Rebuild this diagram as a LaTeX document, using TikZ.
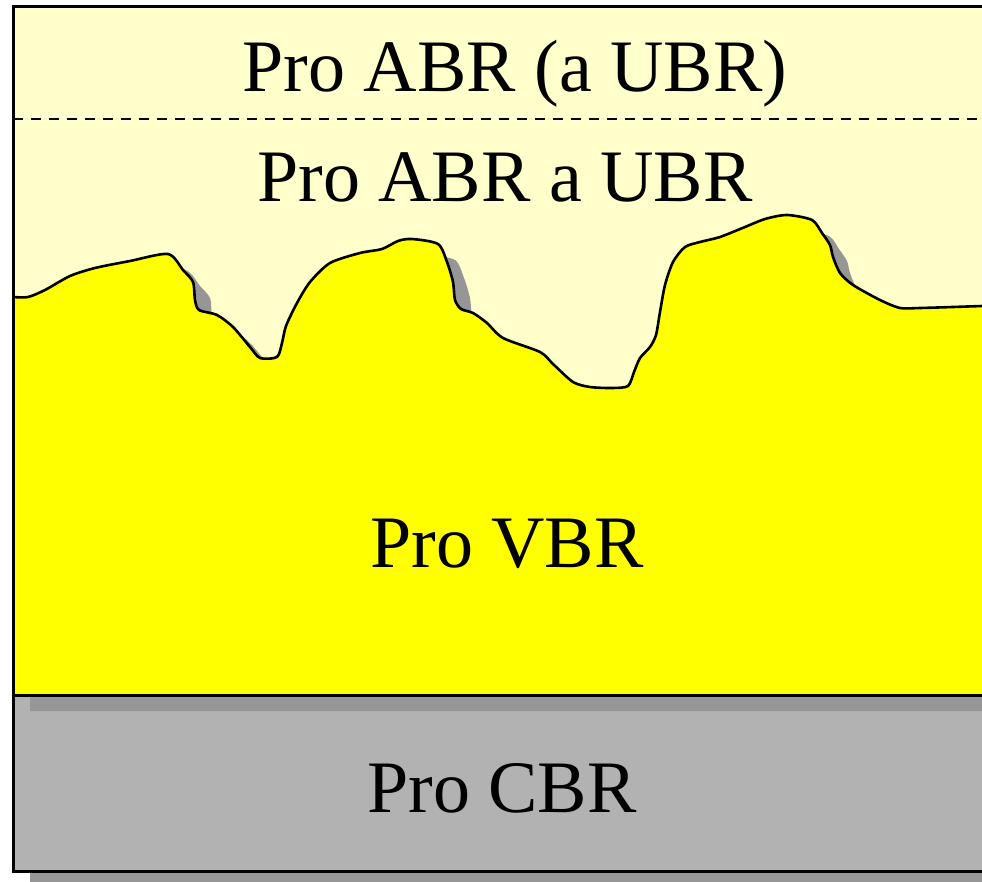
\documentclass[tikz,border=0pt]{standalone}
\usepackage{fontspec}
\setmainfont{Liberation Serif}
\usepackage{tikz}
\usetikzlibrary{positioning}

\definecolor{abrback}{RGB}{255,255,204}
\definecolor{vbrback}{RGB}{255,255,0}
\definecolor{cbrback}{RGB}{178,178,178}
\definecolor{shadowgray}{RGB}{150,150,150}

% upper edge of the VBR area, left to right
\def\vbredge{(13,297) -- plot[smooth, tension=0.45] coordinates {
  (13,297) (28,297) (45,290) (70,276) (95,268) (130,261) (168,254)
  (183,270) (193,282) (195,300) (199,310) (217,315) (233,327) (250,347)
  (260,358) (277,357) (282,343) (286,326) (297,303) (310,282) (330,263)
  (360,253) (382,249) (398,241) (412,239) (438,244) (447,262) (453,282)
  (455,300) (461,309) (473,313) (487,323) (503,338) (540,352) (553,364)
  (573,382) (590,387) (612,388) (628,386) (634,372) (640,358) (650,347)
  (656,335) (660,312) (665,285) (673,262) (685,247) (700,242) (720,237)
  (745,227) (765,219) (787,215) (812,220) (822,233) (830,245) (833,257)
  (840,273) (853,285) (880,300) (900,308) (920,308) (953,307) (982,306)}}
% whole VBR area
\def\vbrarea{\vbredge -- (982,695) -- (13,695) -- cycle}

\begin{document}
\begin{tikzpicture}[x=1pt, y=-1pt,
  frame/.style={line width=3pt},
  label/.style={font=\fontsize{74}{80}\selectfont, anchor=base, inner sep=0pt}]

\useasboundingbox (0,0) rectangle (982,882);

% backgrounds and shadows
\fill [abrback   ] (13,7) rectangle (982,695);
\fill [shadowgray] (30,711) rectangle (999,887);
\fill [cbrback   ] (13,695) rectangle (982,871);
\begin{scope}[shift={(17,16)}]
\fill [shadowgray] \vbrarea;
\end{scope}
\fill [vbrback   ] \vbrarea;

% lines
\draw [line width=2.6pt, line join=round] \vbredge;
\draw [line width=2.2pt, dash pattern=on 10pt off 8pt] (13,119) -- (982,119);
\draw [frame] (982,7) -- (13,7) -- (13,871) -- (982,871);
\draw [frame] (13,695) -- (982,695);

% texts
\node [label] (abrtop) at (515,92)  {Pro ABR (a UBR)};
\node [label] (abr)    at (505,202) {Pro ABR a UBR};
\node [label] (vbr)    at (507,567) {Pro VBR};
\node [label] (cbr)    at (502,812) {Pro CBR};

\end{tikzpicture}
\end{document}
